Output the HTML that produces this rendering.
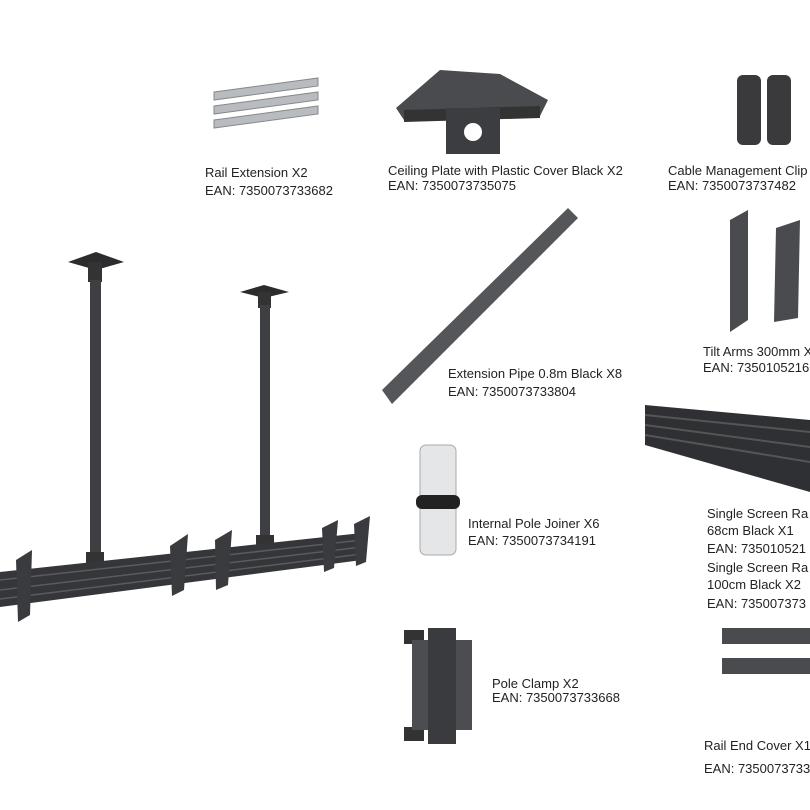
<!DOCTYPE html>
<html><head><meta charset="utf-8"><style>
html,body{margin:0;padding:0;background:#fff;}
svg{display:block}
text{font-family:"Liberation Sans",Arial,sans-serif;font-size:13px;fill:#222}
</style></head><body>
<svg width="810" height="810" viewBox="0 0 810 810" xmlns="http://www.w3.org/2000/svg">
<g fill="#b8bcc0" stroke="#888" stroke-width="1">
<polygon points="214,92 318,78 318,86 214,100"/>
<polygon points="214,106 318,92 318,100 214,114"/>
<polygon points="214,120 318,106 318,114 214,128"/>
</g>
<polygon points="396,108 440,70 500,74 548,100 540,116 404,120" fill="#4a4b4e"/>
<polygon points="404,110 540,106 540,118 404,122" fill="#333"/>
<rect x="446" y="108" width="54" height="46" fill="#3c3d40"/>
<circle cx="473" cy="132" r="9" fill="#fff"/>
<rect x="737" y="75" width="24" height="70" rx="6" fill="#3a3a3d"/>
<rect x="767" y="75" width="24" height="70" rx="6" fill="#3a3a3d"/>
<polygon points="382,390 568,208 578,218 392,404" fill="#555659"/>
<polygon points="730,220 748,210 748,320 730,332" fill="#4a4b4e"/>
<polygon points="776,228 800,220 798,318 774,322" fill="#4a4b4e"/>
<polygon points="645,405 810,420 810,492 645,445" fill="#2f3033"/>
<g stroke="#555" stroke-width="2"><line x1="645" y1="415" x2="810" y2="432"/><line x1="645" y1="425" x2="810" y2="447"/><line x1="645" y1="435" x2="810" y2="462"/></g>
<rect x="420" y="445" width="36" height="110" rx="6" fill="#e4e6e8" stroke="#aaa"/>
<rect x="416" y="495" width="44" height="14" rx="6" fill="#222"/>
<rect x="404" y="630" width="20" height="14" fill="#333"/>
<rect x="404" y="727" width="20" height="14" fill="#333"/>
<rect x="412" y="640" width="60" height="90" fill="#4c4d50"/>
<rect x="428" y="628" width="28" height="116" fill="#3a3b3e"/>
<rect x="722" y="628" width="88" height="16" fill="#4a4b4e"/>
<rect x="722" y="658" width="88" height="16" fill="#4a4b4e"/>
<polygon points="68,262 96,252 124,262 96,270" fill="#2c2c2e"/>
<rect x="88" y="262" width="14" height="20" fill="#333"/>
<rect x="90" y="280" width="11" height="280" fill="#3e3f42"/>
<rect x="86" y="552" width="18" height="14" fill="#333"/>
<polygon points="240,292 264,285 289,292 264,298" fill="#2c2c2e"/>
<rect x="258" y="292" width="13" height="16" fill="#333"/>
<rect x="260" y="305" width="10" height="235" fill="#3e3f42"/>
<rect x="256" y="535" width="18" height="12" fill="#333"/>
<polygon points="0,572 362,533 362,560 0,607" fill="#353639"/>
<g stroke="#5a5b5e" stroke-width="1.5"><line x1="0" y1="580" x2="362" y2="540"/><line x1="0" y1="590" x2="362" y2="547"/><line x1="0" y1="599" x2="362" y2="554"/></g>
<g fill="#3a3b3e">
<polygon points="16,560 32,550 30,615 18,622"/>
<polygon points="170,546 188,534 184,590 172,596"/>
<polygon points="215,540 232,530 228,585 216,590"/>
<polygon points="322,528 338,520 334,568 324,572"/>
<polygon points="354,524 370,516 366,562 356,566"/>
</g>
<text x="205" y="177">Rail Extension X2</text>
<text x="205" y="195">EAN: 7350073733682</text>
<text x="388" y="175">Ceiling Plate with Plastic Cover Black X2</text>
<text x="388" y="190">EAN: 7350073735075</text>
<text x="668" y="175">Cable Management Clip</text>
<text x="668" y="190">EAN: 7350073737482</text>
<text x="448" y="378">Extension Pipe 0.8m Black X8</text>
<text x="448" y="396">EAN: 7350073733804</text>
<text x="703" y="356">Tilt Arms 300mm X</text>
<text x="703" y="372">EAN: 7350105216</text>
<text x="468" y="528">Internal Pole Joiner X6</text>
<text x="468" y="545">EAN: 7350073734191</text>
<text x="707" y="518">Single Screen Ra</text>
<text x="707" y="535">68cm Black X1</text>
<text x="707" y="553">EAN: 735010521</text>
<text x="707" y="572">Single Screen Ra</text>
<text x="707" y="589">100cm Black X2</text>
<text x="707" y="608">EAN: 735007373</text>
<text x="492" y="688">Pole Clamp X2</text>
<text x="492" y="702">EAN: 7350073733668</text>
<text x="704" y="750">Rail End Cover X1</text>
<text x="704" y="773">EAN: 7350073733</text>
</svg>
</body></html>
